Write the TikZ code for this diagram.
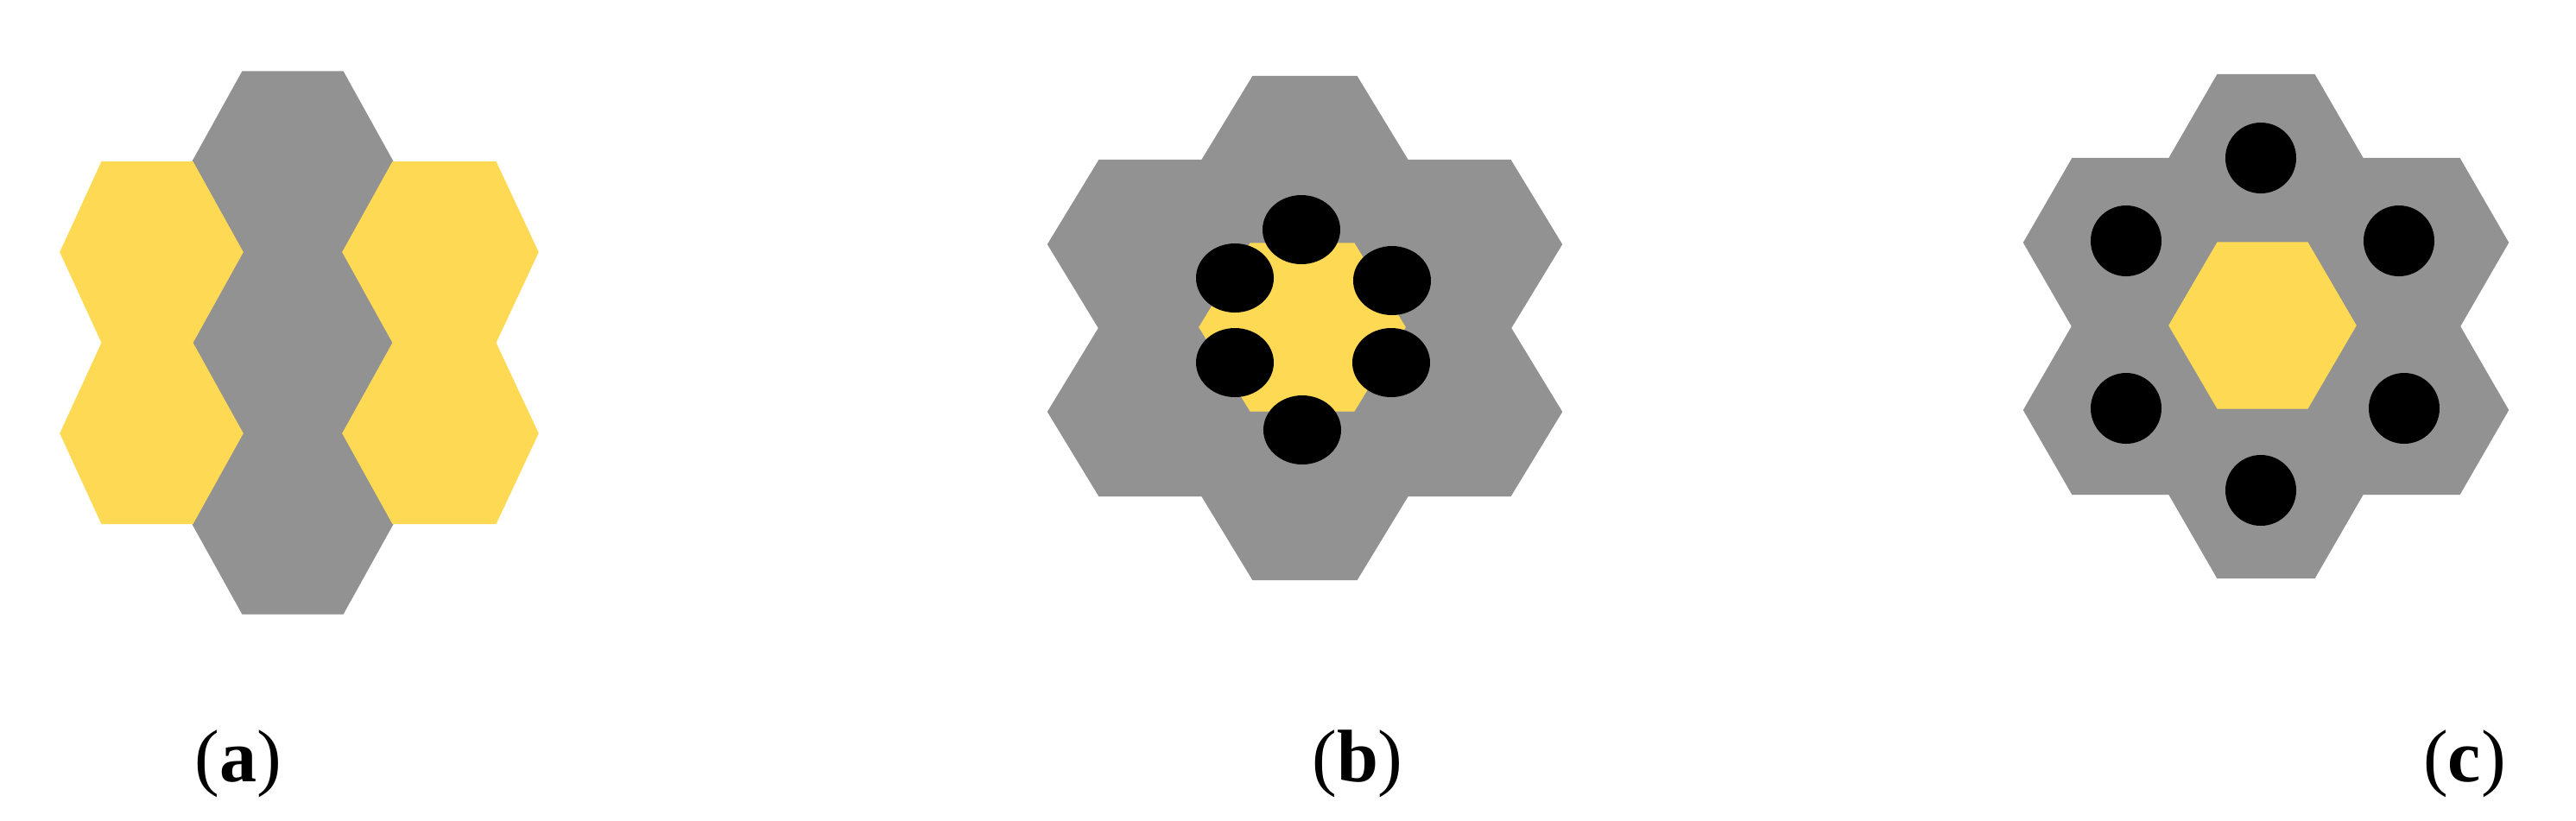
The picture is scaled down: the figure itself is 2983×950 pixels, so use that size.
\documentclass[tikz,border=0pt]{standalone}
\usepackage{fontspec}
\setmainfont{Liberation Serif}
\definecolor{hexgray}{RGB}{146,146,146}
\definecolor{hexyellow}{RGB}{254,217,84}
\tikzset{
  grayhex/.style={fill=hexgray, draw=hexgray, line width=0.6pt},
  yellowhex/.style={fill=hexyellow, draw=hexyellow, line width=0.4pt},
  hole/.style={fill=black},
  lab/.style={font=\fontsize{24.5pt}{29pt}\selectfont, anchor=base, inner sep=0pt},
}
% regular-ish hexagon: style, cx, cy, half-width, half-top, half-height
\newcommand\hexa[6]{%
  \path[#1] ({#2-#4},{#3}) -- ({#2-#5},{#3-#6}) -- ({#2+#5},{#3-#6}) -- ({#2+#4},{#3})
    -- ({#2+#5},{#3+#6}) -- ({#2-#5},{#3+#6}) -- cycle;}
% hexagon given by its x positions: style, cy, left, top-left, top-right, right, half-height
\newcommand\ihex[7]{%
  \path[#1] (#3,#2) -- (#4,{#2-#7}) -- (#5,{#2-#7}) -- (#6,#2)
    -- (#5,{#2+#7}) -- (#4,{#2+#7}) -- cycle;}
\begin{document}
\begin{tikzpicture}[x=0.01cm, y=-0.01cm]
\useasboundingbox (0,0) rectangle (2983,950);

% ---------- (a) ----------
\hexa{grayhex}{339}{188}{116}{58}{104.5}
\hexa{grayhex}{339}{397}{116}{58}{104.5}
\hexa{grayhex}{339}{606}{116}{58}{104.5}
\ihex{yellowhex}{292}{70}{118}{223}{281}{104.5}
\ihex{yellowhex}{502}{70}{118}{223}{281}{104.5}
\ihex{yellowhex}{292}{397}{455}{574}{623}{104.5}
\ihex{yellowhex}{502}{397}{455}{574}{623}{104.5}

% ---------- (b) ----------
\foreach \dx/\dy in {0/-194, 0/194, -178/-97, -178/97, 178/-97, 178/97, 0/0}
  {\hexa{grayhex}{1511+\dx}{380+\dy}{119}{60}{97}}
\hexa{yellowhex}{1508}{379}{119}{60}{97}
\foreach \x/\y in {1507/266, 1430/322, 1612/325, 1430/420, 1611/420, 1508/498}
  {\fill[hole] (\x,\y) ellipse [x radius=45, y radius=40];}

% ---------- (c) ----------
\foreach \dx/\dy in {0/-194, 0/194, -168/-97, -168/97, 168/-97, 168/97, 0/0}
  {\hexa{grayhex}{2624+\dx}{378+\dy}{112}{56}{97}}
\hexa{yellowhex}{2620}{377}{108}{52}{96}
\foreach \x/\y in {2618/183, 2462/279, 2778/279, 2462/473, 2784/473, 2618/568}
  {\fill[hole] (\x,\y) circle [radius=41];}

% ---------- labels ----------
\node[lab] (la) at (276,905) {(\textbf{a})};
\node[lab] (lb) at (1572,905) {(\textbf{b})};
\node[lab] (lc) at (2854,905) {(\textbf{c})};
\end{tikzpicture}
\end{document}
